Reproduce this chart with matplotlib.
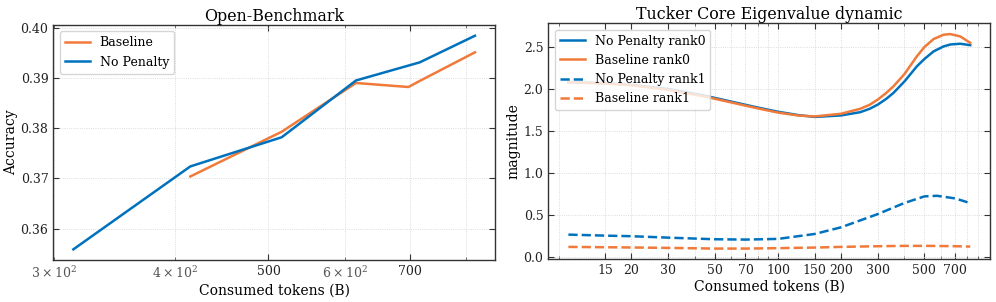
import numpy as np
import matplotlib
matplotlib.use("Agg")
import matplotlib.pyplot as plt
from matplotlib.ticker import ScalarFormatter

plt.rcParams['font.family'] = ['DejaVu Serif']
plt.rcParams['xtick.direction'] = 'in'
plt.rcParams['ytick.direction'] = 'in'
plt.rcParams['xtick.top'] = True
plt.rcParams['ytick.right'] = True

BLUE = '#0072BD'
ORANGE = '#F07A3A'

# left panel: Open-Benchmark accuracy
bench_tokens_np = [314, 415, 516, 616, 717, 818]
bench_acc_np = [0.3559, 0.3724, 0.3782, 0.3895, 0.3931, 0.3984]
bench_tokens_base = [415, 516, 616, 698, 717, 818]
bench_acc_base = [0.3704, 0.3793, 0.3890, 0.3882, 0.3894, 0.3951]

# right panel: Tucker core eigenvalues
eig_tokens0 = [10, 15, 20, 30, 45, 60, 80, 100, 125, 150, 200, 247, 274, 300, 329, 356, 402, 460, 500, 553,
               617, 664, 741, 827]
np_rank0 = [2.08, 2.07, 2.05, 2.00, 1.92, 1.85, 1.78, 1.73, 1.69, 1.668, 1.686, 1.725, 1.765, 1.816, 1.884, 1.955,
            2.092, 2.27, 2.358, 2.448, 2.507, 2.53, 2.539, 2.522]
base_rank0 = [2.08, 2.065, 2.045, 1.99, 1.91, 1.84, 1.77, 1.72, 1.685, 1.674, 1.706, 1.765, 1.813, 1.876, 1.955,
              2.033, 2.18, 2.389, 2.50, 2.595, 2.646, 2.654, 2.626, 2.55]
eig_tokens1 = [10, 15, 20, 30, 50, 70, 100, 150, 200, 300, 400, 500, 574, 700, 827]
np_rank1 = [0.268, 0.256, 0.249, 0.232, 0.213, 0.209, 0.217, 0.276, 0.355, 0.513, 0.643, 0.723, 0.730, 0.699, 0.643]
base_rank1 = [0.122, 0.118, 0.115, 0.110, 0.102, 0.102, 0.107, 0.114, 0.122, 0.130, 0.134, 0.134, 0.133, 0.130, 0.126]

eig_xticks = [15, 20, 30, 50, 70, 100, 150, 200, 300, 500, 700]

fig, (ax1, ax2) = plt.subplots(1, 2, figsize=(9.96, 3.02), dpi=100)
ax1.set_position([0.0535, 0.139, 0.4435, 0.778])
ax2.set_position([0.5505, 0.1414, 0.4438, 0.7813])

lw = 1.8
ax1.plot(bench_tokens_base, bench_acc_base, color=ORANGE, lw=lw, label='Baseline')
ax1.plot(bench_tokens_np, bench_acc_np, color=BLUE, lw=lw, label='No Penalty')
ax1.set_xscale('log')
ax1.set_xticks([500, 700])
ax1.xaxis.set_major_formatter(ScalarFormatter())
ax1.set_title('Open-Benchmark', fontsize=11.4, pad=3)
ax1.set_xlabel('Consumed tokens (B)', fontsize=10, labelpad=2)
ax1.set_ylabel('Accuracy', fontsize=10, labelpad=2)
ax1.legend(loc='upper left', fontsize=9, framealpha=0.8)

ax2.plot(eig_tokens0, np_rank0, color=BLUE, lw=lw, label='No Penalty rank0')
ax2.plot(eig_tokens0, base_rank0, color=ORANGE, lw=lw, label='Baseline rank0')
ax2.plot(eig_tokens1, np_rank1, color=BLUE, lw=lw, ls='--', label='No Penalty rank1')
ax2.plot(eig_tokens1, base_rank1, color=ORANGE, lw=lw, ls='--', label='Baseline rank1')
ax2.set_xscale('log')
ax2.set_xticks(eig_xticks)
ax2.xaxis.set_major_formatter(ScalarFormatter())
ax2.set_title('Tucker Core Eigenvalue dynamic', fontsize=11.4, pad=3)
ax2.set_xlabel('Consumed tokens (B)', fontsize=10, labelpad=2)
ax2.set_ylabel('magnitude', fontsize=10, labelpad=2)
ax2.legend(loc='upper left', fontsize=9, framealpha=0.8)

for ax in (ax1, ax2):
    ax.grid(True, which='both', ls=':', lw=0.6, color='#d0d0d0')
    ax.tick_params(which='major', length=4, width=0.8, colors='#333333', labelcolor='#222222', labelsize=9)
    ax.tick_params(which='minor', length=2.5, width=0.6, colors='#555555', labelsize=9)
    for s in ax.spines.values():
        s.set_color('#333333')
        s.set_linewidth(1.0)

fig.savefig('out.png', dpi=100)
